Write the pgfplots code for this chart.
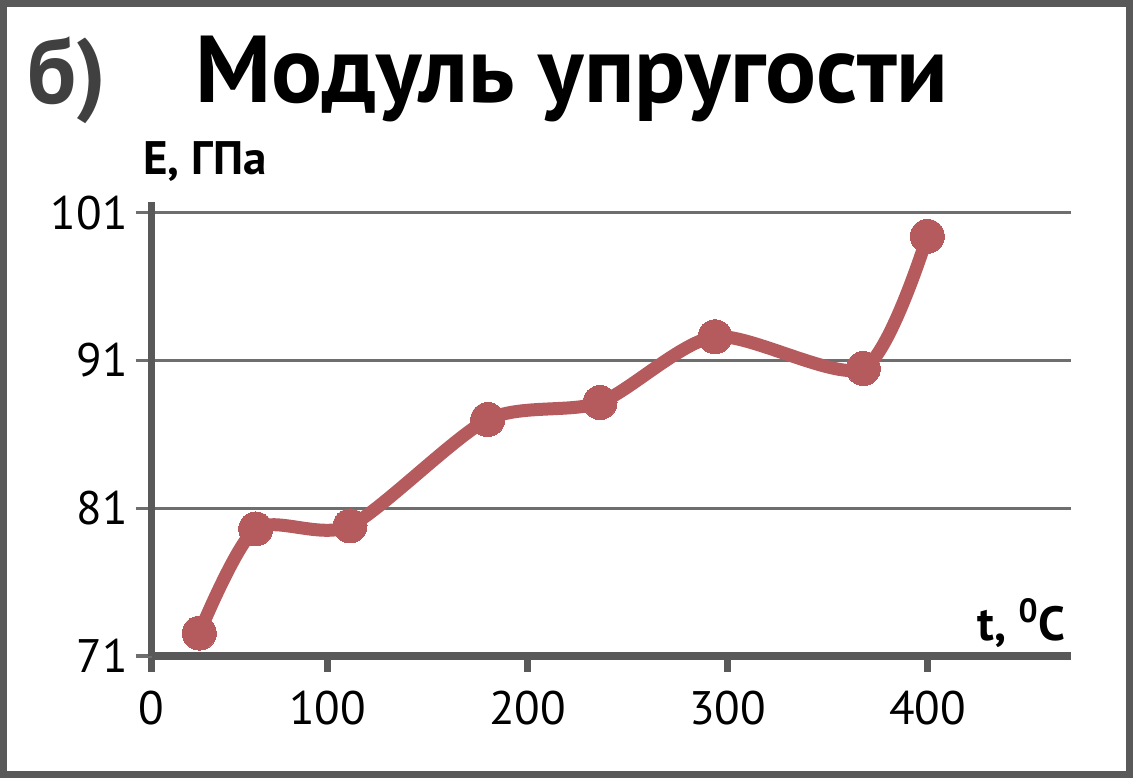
\documentclass[border=0pt]{standalone}
\usepackage{pgfplots}
\pgfplotsset{compat=1.18}
\usepackage{fontspec}
\setmainfont{PT Sans}
\definecolor{framegray}{HTML}{595959}
\definecolor{gridgray}{HTML}{6E6E6E}
\definecolor{series}{HTML}{B55B5E}
\definecolor{labgray}{HTML}{404040}
\begin{document}
\begin{tikzpicture}
\begin{axis}[
  at={(0,0)}, anchor=south west,
  scale only axis,
  width=459.65bp, height=227.15bp,
  xmin=12.1, xmax=471.75,
  ymin=71, ymax=101.74,
  axis lines*=left,
  axis line style={line width=3.8bp, color=framegray},
  xtick={12.1,100,200,300,400},
  xticklabels={0,100,200,300,400},
  ytick={71,81,91,101},
  tick align=outside,
  major tick length=8bp,
  x tick style={line width=3.5bp, color=framegray},
  y tick style={line width=1.6bp, color=gridgray},
  ymajorgrids,
  major grid style={line width=1.6bp, color=gridgray},
  tick label style={font=\fontsize{23.5bp}{23.5bp}\selectfont, text=black},
  /pgf/number format/assume math mode=true,
  y tick label style={anchor=east, xshift=-0.5bp},
  x tick label style={anchor=north, yshift=-6bp},
  clip=false,
]
\addplot[color=series, line width=6.5bp, smooth, tension=0.45,
  mark=*, mark size=8.5bp, mark options={fill=series, draw=series, line width=0pt}]
coordinates {
(35.9,72.55) (64.1,79.6) (111.25,79.8) (180.1,87.0) (236.25,88.15) (293.75,92.6) (367.9,90.45) (399.9,99.4)
};
\end{axis}
\node[anchor=base west, inner sep=0pt, text=labgray, font=\bfseries\fontsize{46bp}{46bp}\selectfont] at (-62.5bp,276bp) {б)};
\node[anchor=base west, inner sep=0pt, font=\bfseries\fontsize{47.5bp}{47.5bp}\selectfont] at (21.65bp,276.5bp) {Модуль упругости};
\node[anchor=base west, inner sep=0pt, font=\bfseries\fontsize{23.5bp}{23.5bp}\selectfont] at (-4.35bp,240.5bp) {E, ГПа};
\node[anchor=base east, inner sep=0pt, font=\bfseries\fontsize{24bp}{24bp}\selectfont] at (457.15bp,8bp) {t, \textsuperscript{0}C};
\draw[line width=3.5bp, color=framegray] (-74.1bp,-59.25bp) rectangle (488.9bp,326.25bp);
\pgfresetboundingbox
\path[use as bounding box] (-75.85bp,-61bp) rectangle (490.65bp,328bp);
\end{tikzpicture}
\end{document}
